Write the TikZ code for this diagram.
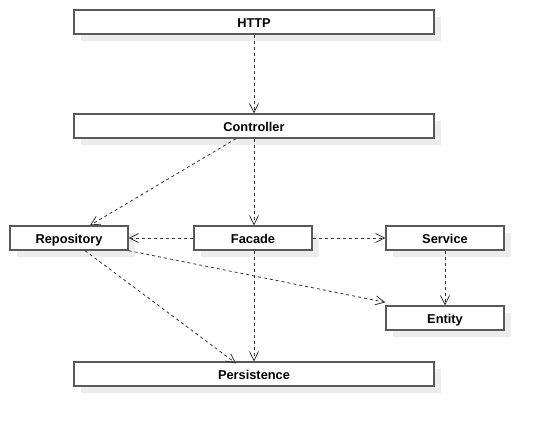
\documentclass[tikz,border=0pt]{standalone}
\usepackage{fontspec}
\setmainfont{Liberation Sans}
\usetikzlibrary{arrows.meta,shadows}
\begin{document}
\begin{tikzpicture}[x=1pt,y=-1pt,
  box/.style={draw=black!65,line width=1.3pt,fill=white,minimum height=24pt,
    inner sep=0pt,text height=12pt,text depth=0.2pt,
    font=\fontsize{12.8}{14}\selectfont\bfseries,text=black,
    drop shadow={shadow xshift=7pt,shadow yshift=-7pt,fill=black!7,opacity=1}},
  dep/.style={draw=black!80,line width=0.8pt,dash pattern=on 3pt off 3pt,
    -{Straight Barb[length=9pt,width=9pt,line width=0.8pt]}}]
\useasboundingbox (0,0) rectangle (544,426);
\node[box,minimum width=360pt] (http) at (254,22) {HTTP};
\node[box,minimum width=360pt] (ctrl) at (254,126) {Controller};
\node[box,minimum width=118pt] (repo) at (69,238) {Repository};
\node[box,minimum width=118pt] (fac) at (253,238) {Facade};
\node[box,minimum width=118pt] (serv) at (445,238) {Service};
\node[box,minimum width=118pt] (ent) at (445,318) {Entity};
\node[box,minimum width=360pt] (pers) at (254,374) {Persistence};
\draw[dep] (http.south -| 254,0) -- (ctrl.north -| 254,0);
\draw[dep] (ctrl.south -| 236,0) -- (repo.north -| 90,0);
\draw[dep] (ctrl.south -| 254,0) -- (fac.north -| 254,0);
\draw[dep] (fac.west) -- (repo.east);
\draw[dep] (fac.east) -- (serv.west);
\draw[dep] (fac.south -| 254,0) -- (pers.north -| 254,0);
\draw[dep] (repo.south east) -- ([yshift=3pt]ent.north west);
\draw[dep] (repo.south -| 85,0) -- ([yshift=-2pt]pers.north -| 236,0);
\draw[dep] (serv.south) -- (ent.north);
\end{tikzpicture}
\end{document}
